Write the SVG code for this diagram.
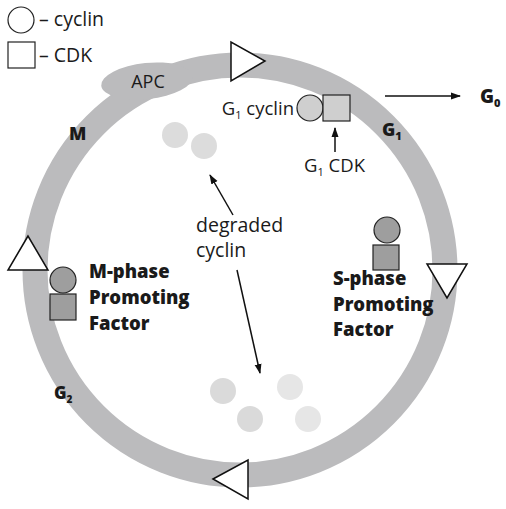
<svg xmlns="http://www.w3.org/2000/svg" width="506" height="509" viewBox="0 0 506 509">
<defs>
<marker id="ah" viewBox="0 0 10 10" refX="9" refY="5" markerWidth="10" markerHeight="10" markerUnits="userSpaceOnUse" orient="auto"><path d="M0,1.5 L10,5 L0,8.5 Z" fill="#111"/></marker>
<style>
text{font-family:"Open Sans","Liberation Sans",sans-serif;fill:#1a1a1a}
.b{font-weight:800}
.tri{fill:#fff;stroke:#111;stroke-width:1.5}
.gr{fill:#9e9e9e;stroke:#222;stroke-width:1.2}
.lg{fill:#cfcfcf;stroke:#222;stroke-width:1.2}
.ln{stroke:#111;stroke-width:1.5;fill:none}
</style>
</defs>
<rect width="506" height="509" fill="#fff"/>
<g id="legend">
<circle cx="21" cy="20" r="13" fill="#fff" stroke="#222" stroke-width="1.2"/>
<text x="39" y="26" font-size="19.5">– cyclin</text>
<rect x="8" y="42" width="27" height="26" fill="#fff" stroke="#222" stroke-width="1.2"/>
<text x="39" y="62" font-size="19.5">– CDK</text>
</g>
<g id="ring">
<circle cx="240" cy="270" r="205" fill="none" stroke="#bbbbbd" stroke-width="25"/>
</g>
<g id="apc">
<ellipse cx="147" cy="81" rx="46" ry="18" fill="#bbbbbd" transform="rotate(-6 147 81)"/>
<text x="148" y="88" font-size="18" text-anchor="middle">APC</text>
</g>
<g id="triangles">
<polygon class="tri" points="231,42 231,81 265,61"/>
<polygon class="tri" points="427,264 467,264 447,298"/>
<polygon class="tri" points="213,479 248,460 248,499"/>
<polygon class="tri" points="28,236 8,270 48,270"/>
</g>
<g id="phase-labels">
<text x="69" y="140" font-size="18" class="b">M</text>
<text x="382" y="136" font-size="18" class="b">G<tspan font-size="11" dy="4">1</tspan></text>
<text x="480" y="103" font-size="19" class="b">G<tspan font-size="11" dy="4">0</tspan></text>
<text x="54" y="399" font-size="17" class="b">G<tspan font-size="10" dy="4">2</tspan></text>
</g>
<g id="g1-complex">
<circle class="lg" cx="310" cy="108" r="13"/>
<rect class="lg" x="323" y="95" width="27" height="26"/>
<text x="294" y="115" font-size="18.5" text-anchor="end">G<tspan font-size="11" dy="4">1</tspan><tspan dy="-4"> cyclin</tspan></text>
<text x="304" y="172" font-size="18.5">G<tspan font-size="11" dy="4">1</tspan><tspan dy="-4"> CDK</tspan></text>
</g>
<g id="s-phase-pf">
<circle class="gr" cx="387" cy="230" r="13"/>
<rect class="gr" x="373" y="245" width="26" height="25"/>
<text x="333" y="285" font-size="18.5" class="b">S-phase</text>
<text x="333" y="311" font-size="18.5" class="b">Promoting</text>
<text x="333" y="336" font-size="18.5" class="b">Factor</text>
</g>
<g id="m-phase-pf">
<circle class="gr" cx="63" cy="280" r="13"/>
<rect class="gr" x="50" y="294" width="26" height="26"/>
<text x="89" y="278" font-size="18.5" class="b">M-phase</text>
<text x="89" y="304" font-size="18.5" class="b">Promoting</text>
<text x="89" y="330" font-size="18.5" class="b">Factor</text>
</g>
<g id="degraded">
<circle cx="175" cy="135" r="13" fill="#dcdcdc"/>
<circle cx="204" cy="146" r="13" fill="#dcdcdc"/>
<circle cx="223" cy="391" r="13" fill="#dadada"/>
<circle cx="290" cy="387" r="13" fill="#e6e6e6"/>
<circle cx="250" cy="419" r="13" fill="#dadada"/>
<circle cx="308" cy="419" r="13" fill="#e6e6e6"/>
<text x="196" y="232" font-size="19.5">degraded</text>
<text x="196" y="257" font-size="19.5">cyclin</text>
</g>
<g id="connectors">
<line class="ln" x1="385" y1="96" x2="460" y2="96" marker-end="url(#ah)"/>
<line class="ln" x1="335" y1="152" x2="335" y2="128" marker-end="url(#ah)"/>
<line class="ln" x1="233" y1="215" x2="210" y2="175" marker-end="url(#ah)"/>
<line class="ln" x1="237" y1="270" x2="260" y2="373" marker-end="url(#ah)"/>
</g>
</svg>
